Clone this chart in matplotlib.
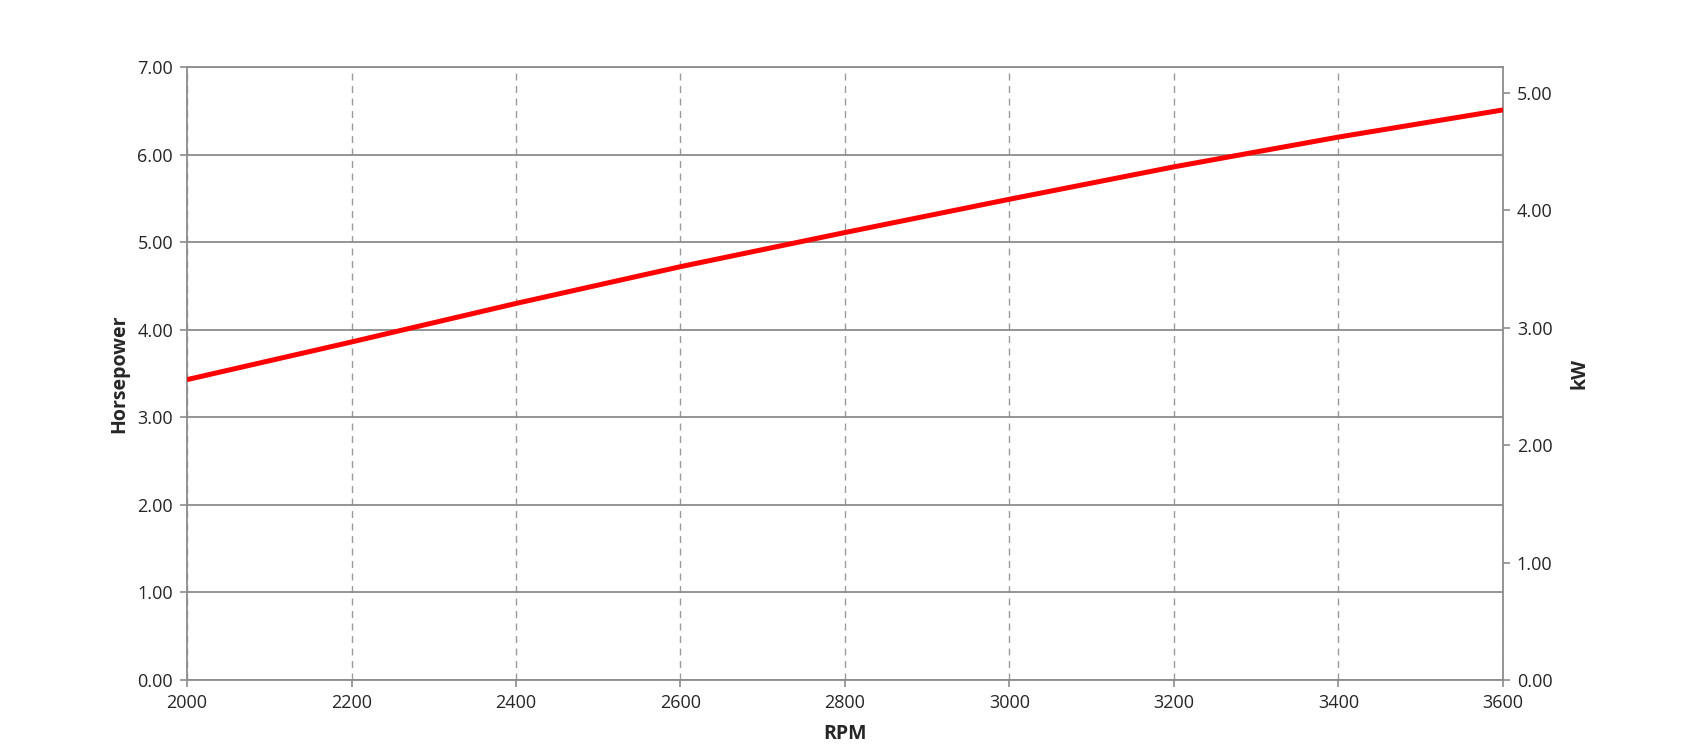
import numpy as np
import matplotlib
matplotlib.use("Agg")
import matplotlib.pyplot as plt
from matplotlib.ticker import FormatStrFormatter, MultipleLocator

################################################################################
# Data
################################################################################
rpm = [2000, 2200, 2400, 2600, 2800, 3000, 3200, 3400, 3600]
horsepower = [3.43, 3.86, 4.30, 4.72, 5.11, 5.49, 5.86, 6.20, 6.51]

HP_TO_KW = 0.7457
HP_MAX = 7.0

GRID_COLOR = "#8c8c8c"
TEXT_COLOR = "#262626"

plt.rcParams['font.family'] = ['Open Sans', 'DejaVu Sans']

################################################################################
# Plot
################################################################################
fig = plt.figure(figsize=(16.83, 7.55), dpi=100)
ax = fig.add_axes([187 / 1683, 1 - 680 / 755, (1503 - 187) / 1683, (680 - 67) / 755])

ax.set_xlim(2000, 3600)
ax.set_ylim(0, HP_MAX)
ax.xaxis.set_major_locator(MultipleLocator(200))
ax.yaxis.set_major_locator(MultipleLocator(1))
ax.yaxis.set_major_formatter(FormatStrFormatter("%.2f"))

ax.grid(True, axis="y", color=GRID_COLOR, linewidth=1.3, linestyle="-")
ax.grid(True, axis="x", color="#9a9a9a", linewidth=1.0, linestyle=(0, (5, 4)))
ax.set_axisbelow(True)

for s in ax.spines.values():
	s.set_color(GRID_COLOR)
	s.set_linewidth(1.3)

ax.tick_params(axis="both", direction="out", length=5, width=1.2, color=GRID_COLOR,
	labelsize=13, labelcolor=TEXT_COLOR, pad=5)

ax.plot(rpm, horsepower, color="#ff0000", linewidth=3.6, solid_capstyle="butt", zorder=3)

ax.set_xlabel("RPM", fontsize=14, fontweight="bold", color=TEXT_COLOR, labelpad=9)
ax.set_ylabel("Horsepower", fontsize=14, fontweight="bold", color=TEXT_COLOR, labelpad=6)

# secondary axis in kW
ax2 = ax.twinx()
ax2.set_ylim(0, HP_MAX * HP_TO_KW)
ax2.yaxis.set_major_locator(MultipleLocator(1))
ax2.yaxis.set_major_formatter(FormatStrFormatter("%.2f"))
for s in ax2.spines.values():
	s.set_visible(False)
ax2.tick_params(axis="y", direction="out", length=5, width=1.2, color=GRID_COLOR,
	labelsize=13, labelcolor=TEXT_COLOR, pad=5)
ax2.set_ylabel("kW", fontsize=14, fontweight="bold", color=TEXT_COLOR, labelpad=12)

fig.savefig("out.png", dpi=100, facecolor="white")
